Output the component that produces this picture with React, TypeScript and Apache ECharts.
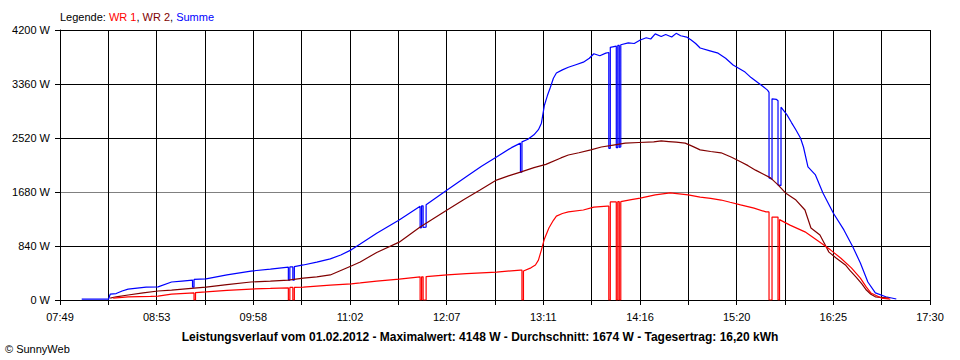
import React, { useEffect, useRef } from "react";
import * as echarts from "echarts";

const xTickLabels = ["07:49", "08:53", "09:58", "11:02", "12:07", "13:11", "14:16", "15:20", "16:25", "17:30"];
const axisStartMinutes = 7 * 60 + 49;
const axisEndMinutes = 17 * 60 + 30;
const yMax = 4200;
const yStep = 840;

const summeTimes = ["08:03","08:21","08:22","08:26","08:30","08:34","08:40","08:46","08:54","09:03","09:10","09:17","09:17","09:18","09:18","09:26","09:40","09:56","10:09","10:21","10:21","10:22","10:22","10:24","10:24","10:25","10:25","10:31","10:40","10:49","10:56","11:03","11:09","11:20","11:35","11:49","11:49","11:50","11:50","11:51","11:51","11:53","11:53","12:07","12:20","12:30","12:40","12:50","12:56","12:56","12:57","12:57","13:01","13:05","13:08","13:10","13:12","13:14","13:16","13:18","13:20","13:24","13:28","13:33","13:38","13:42","13:45","13:49","13:53","13:55","13:55","13:56","13:56","14:00","14:00","14:01","14:01","14:02","14:02","14:03","14:03","14:08","14:12","14:16","14:20","14:23","14:26","14:30","14:33","14:37","14:40","14:43","14:47","14:50","14:53","14:56","15:02","15:08","15:13","15:18","15:22","15:26","15:30","15:34","15:38","15:41","15:42","15:42","15:44","15:44","15:47","15:48","15:48","15:50","15:50","15:54","15:57","16:00","16:03","16:05","16:08","16:13","16:18","16:25","16:32","16:38","16:43","16:48","16:53","17:00","17:07"];
const summeWatts = [15,15,90,100,140,170,185,200,205,280,295,310,200,200,320,330,390,450,480,510,310,310,515,515,310,310,520,545,590,640,700,780,870,1040,1245,1460,1120,1125,1465,1465,1130,1135,1480,1710,1920,2080,2225,2370,2440,1990,1990,2460,2500,2570,2650,2750,3030,3180,3310,3450,3530,3580,3620,3660,3700,3760,3830,3800,3840,3850,2360,2360,3930,3950,2370,2370,3960,3960,2375,2380,3970,4000,3990,4045,4080,4060,4140,4100,4130,4090,4148,4110,4090,4045,3990,3920,3880,3840,3760,3655,3600,3545,3460,3390,3320,3265,3230,1900,1880,3130,3120,3100,1790,1780,3000,2880,2760,2645,2520,2380,2070,1945,1665,1350,1090,825,575,280,110,50,15];

const wr2Times = ["08:22","08:26","08:34","08:44","08:54","09:03","09:18","09:26","09:40","09:56","10:09","10:21","10:31","10:40","10:49","10:56","11:03","11:09","11:20","11:35","11:49","12:07","12:18","12:29","12:40","12:48","12:56","13:05","13:13","13:23","13:28","13:35","13:43","13:50","13:58","14:06","14:15","14:25","14:30","14:35","14:40","14:46","14:51","14:56","15:03","15:10","15:17","15:23","15:28","15:33","15:38","15:43","15:48","15:53","16:00","16:06","16:08","16:10","16:16","16:19","16:22","16:27","16:33","16:36","16:40","16:44","16:47","16:50","16:53","17:02"];
const wr2Watts = [30,50,78,110,140,155,185,200,240,280,295,310,340,360,390,460,530,590,740,900,1135,1400,1560,1710,1865,1930,1990,2060,2110,2210,2255,2290,2335,2380,2410,2440,2450,2460,2475,2465,2455,2440,2390,2335,2310,2290,2220,2150,2090,2020,1960,1900,1790,1665,1555,1400,1260,1120,1010,880,745,650,545,460,360,250,155,90,50,30];

const wr1Times = ["08:24","08:34","08:49","08:54","09:03","09:18","09:18","09:19","09:19","09:26","09:40","09:56","10:09","10:21","10:21","10:22","10:22","10:24","10:24","10:25","10:25","10:31","10:49","11:03","11:09","11:20","11:35","11:49","11:49","11:50","11:50","11:51","11:51","11:53","11:53","12:07","12:20","12:40","12:56","12:57","12:57","12:58","12:58","13:03","13:06","13:08","13:10","13:12","13:15","13:18","13:20","13:24","13:28","13:38","13:45","13:54","13:55","13:55","13:56","13:56","14:00","14:00","14:01","14:01","14:02","14:02","14:03","14:03","14:10","14:16","14:26","14:36","14:42","14:48","14:56","15:03","15:10","15:16","15:23","15:32","15:40","15:42","15:42","15:44","15:44","15:47","15:48","15:48","15:49","15:49","15:56","16:06","16:16","16:23","16:30","16:37","16:43","16:47","16:50","16:57","17:03"];
const wr1Watts = [30,50,55,60,90,110,0,0,115,125,150,170,180,190,0,0,195,195,0,0,195,200,230,250,265,295,325,360,0,0,360,360,0,0,365,390,410,435,465,465,0,0,450,500,545,620,780,950,1120,1240,1305,1345,1370,1400,1445,1460,1460,0,0,1525,1525,0,0,1530,1530,0,0,1530,1560,1585,1635,1665,1650,1635,1600,1580,1555,1520,1480,1430,1370,1370,0,0,1290,1290,1290,0,0,1250,1165,1060,900,780,650,500,340,200,110,30,15];

const titleText = "Leistungsverlauf vom 01.02.2012 - Maximalwert: 4148 W - Durchschnitt: 1674 W - Tagesertrag: 16,20 kWh";
const copyrightText = "© SunnyWeb";

const DIVS = 18;
const FONT = "'Liberation Sans', Arial, sans-serif";

function toX(t: string): number {
  const [h, m] = t.split(":").map(Number);
  const minutes = h * 60 + m + 0.5;
  return ((minutes - axisStartMinutes) * DIVS) / (axisEndMinutes - axisStartMinutes);
}

function pairs(times: string[], watts: number[]) {
  return times.map((t, i) => [toX(t), watts[i]]);
}

export default function App() {
  const ref = useRef<HTMLDivElement>(null);
  useEffect(() => {
    if (!ref.current) return;
    const chart = echarts.init(ref.current, null, { renderer: "svg" });
    const lineSeries = (name: string, color: string, data: number[][]) => ({
      name,
      type: "line",
      data,
      showSymbol: false,
      symbol: "none",
      lineStyle: { color, width: 1.2 },
      itemStyle: { color },
      emphasis: { disabled: true },
      silent: true,
    });
    chart.setOption({
      animation: false,
      backgroundColor: "#ffffff",
      textStyle: { fontFamily: FONT },
      grid: { left: 60, top: 30, width: 870, height: 270, containLabel: false, outerBoundsMode: "none" },
      xAxis: {
        type: "value",
        min: 0,
        max: DIVS,
        interval: 1,
        axisLine: { show: true, lineStyle: { color: "#000", width: 1 } },
        axisTick: { show: true, length: 5, lineStyle: { color: "#000", width: 1 } },
        axisLabel: {
          show: true,
          margin: 11,
          color: "#000",
          fontSize: 11,
          fontFamily: FONT,
          showMinLabel: true,
          showMaxLabel: true,
          formatter: (v: number) => {
            const k = Math.round(v);
            return k % 2 === 0 ? xTickLabels[k / 2] ?? "" : "";
          },
        },
        splitLine: { show: true, lineStyle: { color: "#000", width: 1 } },
      },
      yAxis: {
        type: "value",
        min: 0,
        max: yMax,
        interval: yStep,
        axisLine: { show: true, lineStyle: { color: "#000", width: 1 } },
        axisTick: { show: true, length: 5, lineStyle: { color: "#000", width: 1 } },
        axisLabel: {
          margin: 10,
          color: "#000",
          fontSize: 11,
          fontFamily: FONT,
          formatter: (v: number) => `${v} W`,
        },
        splitLine: {
          show: true,
          lineStyle: { color: ["#000", "#000", "#808080", "#000", "#000", "#000"], width: 1 },
        },
      },
      series: [
        lineSeries("Summe", "#0000ff", pairs(summeTimes, summeWatts)),
        lineSeries("WR 2", "#800000", pairs(wr2Times, wr2Watts)),
        lineSeries("WR 1", "#ff0000", pairs(wr1Times, wr1Watts)),
      ],
      graphic: [
        {
          type: "text",
          x: 60,
          y: 17,
          silent: true,
          style: {
            text: "{k|Legende: }{a|WR 1}{k|, }{b|WR 2}{k|, }{c|Summe}",
            verticalAlign: "middle",
            font: `11px ${FONT}`,
            rich: {
              k: { fill: "#000", fontSize: 11, fontFamily: FONT },
              a: { fill: "#ff0000", fontSize: 11, fontFamily: FONT },
              b: { fill: "#800000", fontSize: 11, fontFamily: FONT },
              c: { fill: "#0000ff", fontSize: 11, fontFamily: FONT },
            },
          },
        },
        {
          type: "text",
          x: 480,
          y: 337,
          silent: true,
          style: {
            text: titleText,
            align: "center",
            verticalAlign: "middle",
            fill: "#000",
            font: `bold 12px ${FONT}`,
          },
        },
        {
          type: "text",
          x: 5,
          y: 349,
          silent: true,
          style: {
            text: copyrightText,
            verticalAlign: "middle",
            fill: "#000",
            font: `11px ${FONT}`,
          },
        },
      ],
    });
    return () => chart.dispose();
  }, []);
  return (
    <div
      ref={ref}
      style={{ position: "fixed", left: 0, top: 0, width: 960, height: 360, background: "#fff" }}
    />
  );
}
